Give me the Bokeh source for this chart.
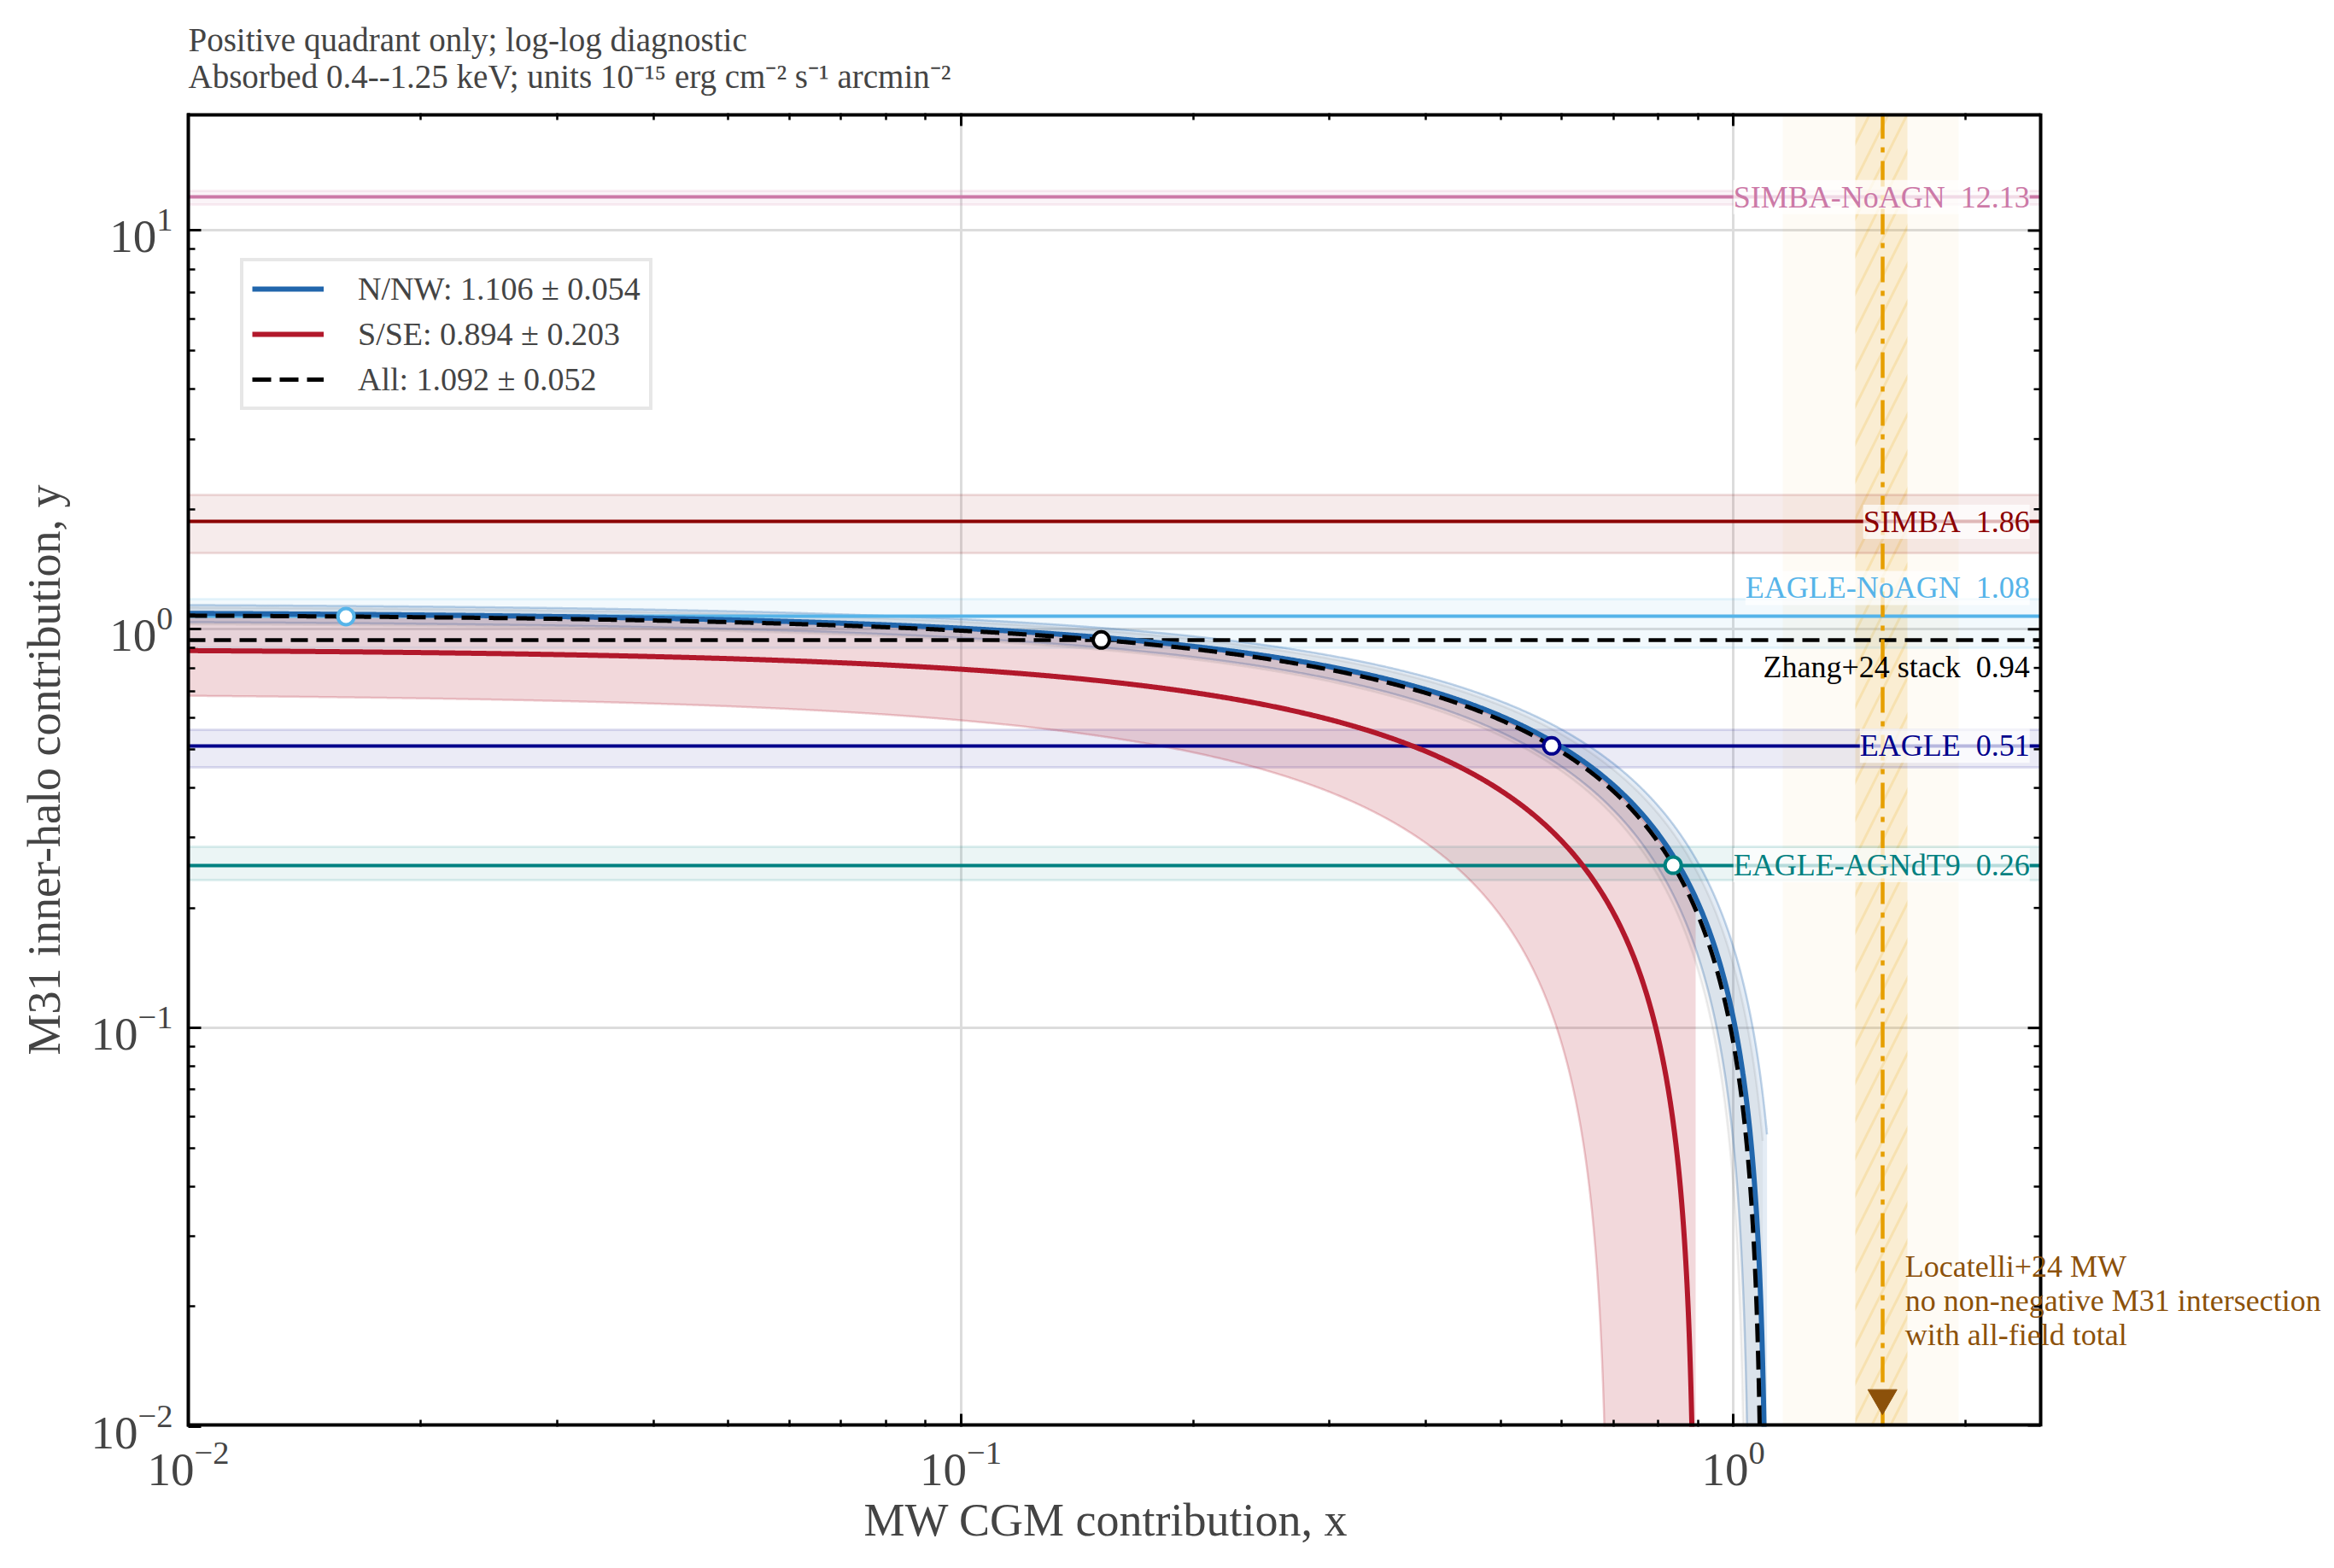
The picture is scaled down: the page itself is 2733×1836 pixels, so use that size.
import numpy as np
from bokeh.plotting import figure
from bokeh.models import (Label, Title, FixedTicker, LogAxis, Range1d, Legend, LegendItem,
                          CustomJSTickFormatter)
from bokeh.embed import file_html
from bokeh.resources import INLINE

# ---------------- data ----------------
FIELDS = ["N/NW", "S/SE", "All"]
TOTALS = [1.106, 0.894, 1.092]
ERRORS = [0.054, 0.203, 0.052]
FIELD_COLORS = ["#2166ac", "#b2182b", "black"]

MODELS = ["SIMBA-NoAGN", "SIMBA", "EAGLE-NoAGN", "Zhang+24 stack", "EAGLE", "EAGLE-AGNdT9"]
MODEL_Y = [12.13, 1.86, 1.076, 0.94, 0.51, 0.256]
MODEL_LO = [11.6, 1.55, 0.90, None, 0.45, 0.235]
MODEL_HI = [12.6, 2.17, 1.19, None, 0.56, 0.285]
MODEL_COLORS = ["#cc79a7", "#8b0000", "#56b4e9", "black", "#00008b", "#008080"]
MODEL_LABEL_SIDE = ["mid", "mid", "above", "below", "mid", "mid"]

LOC_X = 1.56
LOC_ERR_INNER = 0.12
LOC_ERR_OUTER = 0.40
LOC_NOTE = ["Locatelli+24 MW", "no non-negative M31 intersection", "with all-field total"]

X_VIEW = (0.01, 2.5)      # visible axes box
Y_RANGE = (0.01, 19.7)
X_MAJOR = [0.01, 0.1, 1.0]
Y_MAJOR = [0.01, 0.1, 1.0, 10.0]

TITLE_1 = "Positive quadrant only; log-log diagnostic"
TITLE_2 = "Absorbed 0.4--1.25 keV; units 10\u207b\u00b9\u2075 erg cm\u207b\u00b2 s\u207b\u00b9 arcmin\u207b\u00b2"
X_LABEL = "MW CGM contribution, x"
Y_LABEL = "M31 inner-halo contribution, y"

FONT = "Liberation Serif"

# ---------------- layout ----------------
W, H = 2733, 1836
LEFT, SPINE_R, TOP, BOTTOM = 220, 2389, 132, 1670
# the frame runs to the right canvas edge so the note may pass the right spine
dec_px = (SPINE_R - LEFT) / np.log10(X_VIEW[1] / X_VIEW[0])
x_frame_end = X_VIEW[0] * 10 ** ((W - LEFT) / dec_px)


def minor_ticks(lo, hi):
    out = []
    for e in range(-3, 3):
        for m in range(2, 10):
            v = m * 10.0 ** e
            if lo < v < hi:
                out.append(v)
    return out


p = figure(width=W, height=H, x_axis_type="log", y_axis_type="log",
           x_range=Range1d(X_VIEW[0], x_frame_end), y_range=Range1d(*Y_RANGE),
           output_backend="svg", toolbar_location=None,
           min_border_left=LEFT, min_border_right=0, min_border_top=TOP,
           min_border_bottom=H - BOTTOM, background_fill_color="white",
           border_fill_color="white", outline_line_color=None)

blank = CustomJSTickFormatter(code="return ''")
p.add_layout(LogAxis(formatter=blank), "above")

x_minor = minor_ticks(*X_VIEW)
y_minor = minor_ticks(*Y_RANGE)
xt = FixedTicker(ticks=X_MAJOR, minor_ticks=x_minor)
yt = FixedTicker(ticks=Y_MAJOR, minor_ticks=y_minor)
for ax in p.xaxis:
    ax.ticker = xt
for ax in p.yaxis:
    ax.ticker = yt

for ax in p.xaxis + p.yaxis:
    ax.axis_line_width = 4
    ax.axis_line_color = "black"
    ax.major_tick_in = 15
    ax.major_tick_out = 0
    ax.minor_tick_in = 8
    ax.minor_tick_out = 0
    ax.major_tick_line_width = 3
    ax.minor_tick_line_width = 2.5
    ax.major_label_text_font = FONT
    ax.major_label_text_font_size = "55px"
    ax.major_label_standoff = 18
    ax.axis_label_text_font = FONT
    ax.axis_label_text_font_size = "54px"
    ax.axis_label_text_font_style = "normal"

for ax in p.xaxis:
    ax.axis_line_color = None     # spines drawn only up to the right spine
p.left[0].axis_label = Y_LABEL
p.left[0].axis_label_standoff = 22
p.above[0].major_label_text_font_size = "10px"
p.above[0].major_label_standoff = 0

# x label centred under the axes box (not under the wider frame)
p.add_layout(Title(text=X_LABEL, align="left", offset=791, text_font=FONT,
                   text_font_size="54px", text_font_style="normal", standoff=12), "below")

p.xgrid.grid_line_color = "#dcdcdc"
p.ygrid.grid_line_color = "#dcdcdc"
p.xgrid.grid_line_width = 3
p.ygrid.grid_line_width = 3
p.xgrid.ticker = xt
p.ygrid.ticker = yt

p.add_layout(Title(text=TITLE_1 + "\n" + TITLE_2, align="left", text_font=FONT,
                   text_font_size="39px", text_font_style="normal",
                   text_line_height=1.0, standoff=44), "above")

# Locatelli vertical bands
p.vstrip(x0=[LOC_X - LOC_ERR_OUTER], x1=[LOC_X + LOC_ERR_OUTER], fill_color="#e69f00",
         fill_alpha=0.04, line_color=None)
p.vstrip(x0=[LOC_X - LOC_ERR_INNER], x1=[LOC_X + LOC_ERR_INNER], fill_color="#e69f00",
         fill_alpha=0.14, line_color=None, hatch_pattern="/", hatch_color="#e69f00",
         hatch_alpha=0.16, hatch_scale=44, hatch_weight=3)

# model bands
for lo, hi, c in zip(MODEL_LO, MODEL_HI, MODEL_COLORS):
    if lo is None:
        continue
    p.hstrip(y0=[lo], y1=[hi], fill_color=c, fill_alpha=0.08, line_color=c,
             line_alpha=0.12, line_width=3)

# field bands
def field_x(T):
    a = np.geomspace(X_VIEW[0], T, 1500, endpoint=False)
    b = T - np.geomspace(T - X_VIEW[0], 1e-4, 1500)
    return np.unique(np.concatenate([a, b]))

band_style = [("#2166ac", 0.12, 0.28), ("#b2182b", 0.17, 0.22), ("#555555", 0.06, 0.10)]
for T, s, (c, fa, la) in zip(TOTALS, ERRORS, band_style):
    x = field_x(T)
    x = x[x < T]
    hi = T + s - x
    lo = np.clip(T - s - x, 1e-4, None)
    p.varea(x=x, y1=lo, y2=hi, fill_color=c, fill_alpha=fa)
    p.line(x, hi, line_color=c, line_alpha=la, line_width=2.5)
    p.line(x, lo, line_color=c, line_alpha=la, line_width=2.5)

# model lines
for y, c, name in zip(MODEL_Y, MODEL_COLORS, MODELS):
    if name.startswith("Zhang"):
        p.hspan(y=[y], line_color=c, line_width=4.5, line_dash="20 10")
    else:
        p.hspan(y=[y], line_color=c, line_width=4)

# Locatelli line
p.vspan(x=[LOC_X], line_color="#e69f00", line_width=4.5, line_dash="30 10 6 10")

# field lines
legend_items = []
for name, T, s, c in zip(FIELDS, TOTALS, ERRORS, FIELD_COLORS):
    x = field_x(T)
    y = T - x
    if name == "All":
        r = p.line(x, y, line_color=c, line_width=5, line_dash="22 10")
    else:
        r = p.line(x, y, line_color=c, line_width=6)
    legend_items.append(LegendItem(label=f"{name}: {T:.3f} \u00b1 {s:.3f}", renderers=[r]))

# intersections with the all-field total
T_all = TOTALS[FIELDS.index("All")]
mx, my, mc = [], [], []
for y, c in zip(MODEL_Y, MODEL_COLORS):
    if y < T_all:
        mx.append(T_all - y)
        my.append(y)
        mc.append(c)
p.scatter(mx, my, marker="circle", size=19, fill_color="white", line_color=mc, line_width=4)

# arrow head for Locatelli
p.scatter([LOC_X], [Y_RANGE[0] * 1.18], marker="inverted_triangle", size=34,
          fill_color="#8c510a", line_color="#8c510a")

# blank margin to the right of the axes box
p.vstrip(x0=[X_VIEW[1]], x1=[x_frame_end * 10], fill_color="white", fill_alpha=1.0,
         line_color=None)

# spines of the axes box (top/bottom only up to the right spine)
p.segment(x0=[X_VIEW[0], X_VIEW[0]], x1=[X_VIEW[1], X_VIEW[1]],
          y0=[Y_RANGE[0], Y_RANGE[1]], y1=[Y_RANGE[0], Y_RANGE[1]],
          line_color="black", line_width=8)
p.vspan(x=[X_VIEW[1]], line_color="black", line_width=4)
maj_len = 10 ** (-15 / dec_px)
min_len = 10 ** (-8 / dec_px)
p.segment(x0=[X_VIEW[1]] * len(Y_MAJOR), x1=[X_VIEW[1] * maj_len] * len(Y_MAJOR),
          y0=Y_MAJOR, y1=Y_MAJOR, line_color="black", line_width=3)
p.segment(x0=[X_VIEW[1]] * len(y_minor), x1=[X_VIEW[1] * min_len] * len(y_minor),
          y0=y_minor, y1=y_minor, line_color="black", line_width=2.5)

# model labels
for name, y, c, side in zip(MODELS, MODEL_Y, MODEL_COLORS, MODEL_LABEL_SIDE):
    ly = y
    if side == "above":
        ly = y * 1.18
    elif side == "below":
        ly = y * 0.856
    lab = Label(x=X_VIEW[1] * 0.968, y=ly, text=f"{name}\u2002{y:.2f}", text_align="right",
                text_baseline="middle", text_font=FONT, text_font_size="36px",
                text_color=c, background_fill_color="white",
                background_fill_alpha=0.0 if side == "below" else 0.72)
    p.add_layout(lab)

# Locatelli note (one label per line)
for i, line in enumerate(LOC_NOTE):
    p.add_layout(Label(x=LOC_X * 1.07, y=Y_RANGE[0] * 2.78 * (0.822 ** i), text=line,
                       text_align="left", text_baseline="top", text_font=FONT,
                       text_font_size="36px", text_color="#8c510a"))

legend = Legend(items=legend_items, location=(61, 1190), label_text_font=FONT,
                label_text_font_size="38px", glyph_width=84, glyph_height=44,
                label_standoff=40, padding=10, spacing=9, margin=0,
                border_line_color="#d0d0d0", border_line_width=4,
                background_fill_color="white", background_fill_alpha=1.0)
p.add_layout(legend, "center")

open("out.html", "w").write(file_html(p, INLINE))
